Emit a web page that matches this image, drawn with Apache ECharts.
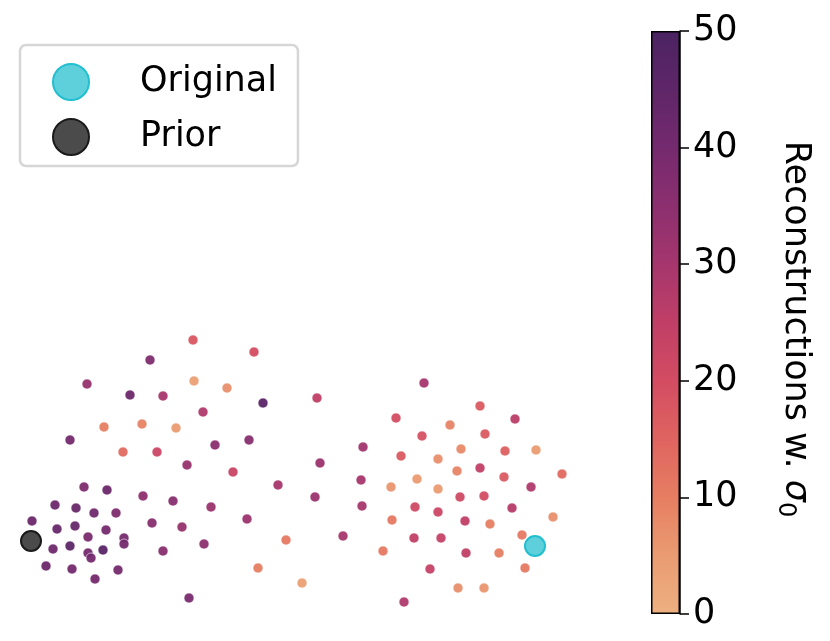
<!DOCTYPE html>
<html>
<head>
<meta charset="utf-8">
<script src="https://cdn.jsdelivr.net/npm/echarts@6/dist/echarts.min.js"></script>
<style>html,body{margin:0;padding:0;background:#fff}#c{width:830px;height:641px}</style>
</head>
<body>
<div id="c"></div>
<script>
// embedding coordinates (x, y) and reconstruction value
const reconX = [193,254,150,87,194,227,130,163,263,203,104,142,176,70,215,249,123,157,187,233,278,84,107,143,173,211,55,76,94,116,32,247,57,75,106,152,182,88,124,124,53,70,103,88,91,163,204,46,72,118,95,258,189,
  424,317,480,396,515,450,422,485,363,461,401,438,505,536,320,457,480,504,562,361,417,391,438,531,315,460,484,362,415,438,512,392,465,490,553,286,343,414,441,522,383,466,499,430,525,302,458,484,404];
const reconY = [340,352,360,384,381,388,395,396,403,412,427,424,428,440,445,440,452,452,465,472,485,487,490,496,501,507,505,508,513,513,521,519,529,526,530,523,527,537,538,544,549,546,550,553,558,551,544,566,569,570,579,568,598,
  383,398,406,418,419,425,436,434,447,449,456,459,451,450,463,471,468,477,474,480,479,487,489,487,497,497,496,506,507,512,508,520,521,524,517,540,536,538,538,535,551,553,553,569,568,583,588,588,602];
const reconVal = [18,20,38,33,4,7,42,30,46,28,10,9,5,40,35,36,14,22,33,23,30,38,42,35,36,32,42,43,41,38,42,32,43,43,40,36,33,39,40,40,41,45,46,40,40,36,35,42,40,40,40,10,39,
  30,25,17,20,26,9,19,17,31,8,17,7,16,5,32,9,25,17,14,30,5,6,5,28,32,21,20,30,21,22,27,11,25,10,7,11,30,25,24,11,11,25,10,24,11,4,7,6,28];
const originalPt = [[535,546]];
const priorPt = [[31,541]];
const cbarTicks = [0,10,20,30,40,50];
const cbarMax = 50;
const flareStops = ['#EDB081','#EA9B71','#E67E62','#DF6460','#D34C62','#C03F67','#A5366D','#8C2F6F','#742A6E','#5E2668','#4B2362'];

const pts = reconX.map((x,i)=>[x, reconY[i], reconVal[i]]);

const chart = echarts.init(document.getElementById('c'));
const font = 'DejaVu Sans';
chart.setOption({
  animation:false,
  backgroundColor:'#fff',
  textStyle:{fontFamily:font},
  grid:[
    {left:0, top:0, width:830, height:641},
    {left:651, top:31, width:29, height:583}
  ],
  xAxis:[
    {gridIndex:0, type:'value', min:0, max:830, show:false},
    {gridIndex:1, type:'category', data:['c'], show:false}
  ],
  yAxis:[
    {gridIndex:0, type:'value', min:0, max:641, inverse:true, show:false},
    {gridIndex:1, type:'value', min:0, max:cbarMax, interval:10, position:'right',
     axisLine:{show:true, lineStyle:{color:'#000', width:1.5}},
     axisTick:{show:true, length:9, lineStyle:{color:'#000', width:1.5}},
     axisLabel:{show:true, margin:13, fontSize:35, color:'#000', fontFamily:font,
       formatter:v=>cbarTicks.includes(v)?String(v):''},
     splitLine:{show:false}}
  ],
  visualMap:{type:'continuous', show:false, min:0, max:cbarMax, dimension:2, seriesIndex:0,
    inRange:{color:flareStops}},
  legend:{
    left:20, top:45, orient:'vertical',
    data:['Original','Prior'],
    itemWidth:36, itemHeight:36, itemGap:17,
    padding:[18,21,10,32],
    backgroundColor:'#fff', borderColor:'#d6d6d6', borderWidth:2.5, borderRadius:6,
    textStyle:{fontSize:35, color:'#000', fontFamily:font, padding:[0,0,0,46]}
  },
  series:[
    {type:'scatter', name:'recon', xAxisIndex:0, yAxisIndex:0, data:pts, symbolSize:10,
     itemStyle:{opacity:0.95, borderColor:'#fff', borderWidth:0.6}, z:2},
    {type:'scatter', name:'Original', xAxisIndex:0, yAxisIndex:0, data:originalPt, symbolSize:20,
     itemStyle:{color:'#5dd0dc', borderColor:'#22bfd0', borderWidth:2, opacity:1}, z:4},
    {type:'scatter', name:'Prior', xAxisIndex:0, yAxisIndex:0, data:priorPt, symbolSize:20,
     itemStyle:{color:'#4b4b4b', borderColor:'#1a1a1a', borderWidth:2, opacity:1}, z:4},
    {type:'bar', name:'cbar', xAxisIndex:1, yAxisIndex:1, data:[cbarMax], barWidth:'100%',
     itemStyle:{borderColor:'#000', borderWidth:1.5,
       color:new echarts.graphic.LinearGradient(0,1,0,0, flareStops.map((c,i)=>({offset:i/(flareStops.length-1), color:c})))},
     silent:true, z:1}
  ],
  graphic:[
    {type:'text', x:795, y:329, rotation:-Math.PI/2,
     style:{text:'Reconstructions w. {s|σ}{b|0}', fill:'#000', font:'35px "DejaVu Sans"',
       align:'center', verticalAlign:'middle',
       rich:{s:{fontSize:35, fontStyle:'italic', fontFamily:font, fill:'#000'}, b:{fontSize:24, fontFamily:font, fill:'#000', padding:[20,0,0,0]}}}}
  ]
});
</script>
</body>
</html>
